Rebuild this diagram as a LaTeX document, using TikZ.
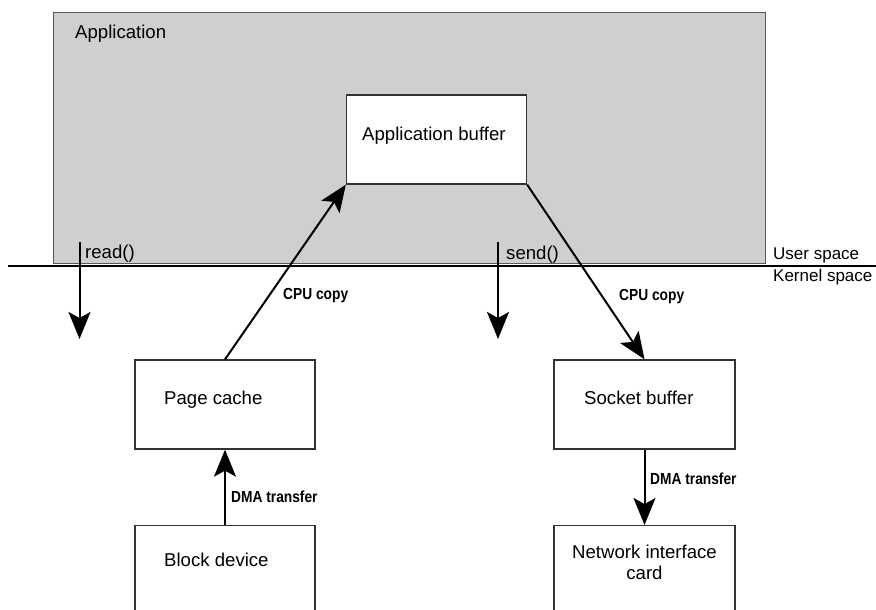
\documentclass[tikz,border=0pt]{standalone}
\usepackage{fontspec}
\setmainfont{Liberation Sans}
\newfontfamily\tagfont[FakeStretch=0.86]{Liberation Sans}
\usetikzlibrary{arrows.meta}

\begin{document}
\begin{tikzpicture}[x=1pt,y=-1pt,
  box/.style={draw=black!80, line width=1.3pt, fill=white, minimum width=180pt, minimum height=89pt, inner sep=0pt},
  txt/.style={anchor=base west, inner sep=0pt, font=\fontsize{18.6}{21}\selectfont},
  side/.style={anchor=base west, inner sep=0pt, font=\fontsize{17}{20}\selectfont},
  tag/.style={anchor=base west, inner sep=0pt, font=\tagfont\bfseries\fontsize{16}{19}\selectfont},
  flow/.style={line width=2pt, -{Stealth[length=27pt, width=22pt, inset=6pt]}}]
\useasboundingbox (0,0) rectangle (876,610);
\clip (0,0) rectangle (876,610);

% user-space area
\node[draw=black!65, line width=1.2pt, fill=black!19, minimum width=712pt, minimum height=251pt,
      inner sep=0pt, anchor=north west] (app) at (53,12) {};
\node[txt] (apptxt) at (75,39) {Application};

% user/kernel boundary
\coordinate (bl) at (8,266);
\coordinate (br) at (880,266);
\draw[line width=2pt] (bl) -- (br);
\node[side] (us) at (773,259) {User space};
\node[side] (ks) at (773,281) {Kernel space};

% buffers and devices
\node[box] (ab) at (436.5,139.5) {};
\node[txt] (abtxt) at (362,140) {Application buffer};

\node[box] (pc) at (225,404.5) {};
\node[txt] (pctxt) at (164,404) {Page cache};

\node[box, minimum height=100pt, anchor=north] (bd) at (225,525) {};
\node[txt] (bdtxt) at (164,566.7) {Block device};

\node[box, minimum width=181pt] (sb) at (644.5,404.5) {};
\node[txt] (sbtxt) at (584,404) {Socket buffer};

\node[box, minimum width=181pt, minimum height=100pt, anchor=north] (nic) at (644.5,525) {};
\node[txt, anchor=base, align=center] (nictxt) at (644.5,579) {Network interface\\card};

% system calls
\coordinate (r0) at (79.5,242);
\coordinate (r1) at (79.5,339);
\draw[flow] (r0) -- (r1);
\node[txt] (rd) at (85,258) {read()};

\coordinate (s0) at (498,242);
\coordinate (s1) at (498,339);
\draw[flow] (s0) -- (s1);
\node[txt] (sd) at (506,259) {send()};

% data copies
\draw[flow] (pc.north) -- (ab.south west);
\node[tag] (cpu1) at (283,299) {CPU copy};

\draw[flow] (ab.south east) -- (sb.north);
\node[tag] (cpu2) at (619,300) {CPU copy};

\draw[flow] (bd.north) -- (pc.south);
\node[tag] (dma1) at (231,502) {DMA transfer};

\draw[flow] (sb.south) -- (nic.north);
\node[tag] (dma2) at (650,484) {DMA transfer};
\end{tikzpicture}
\end{document}
